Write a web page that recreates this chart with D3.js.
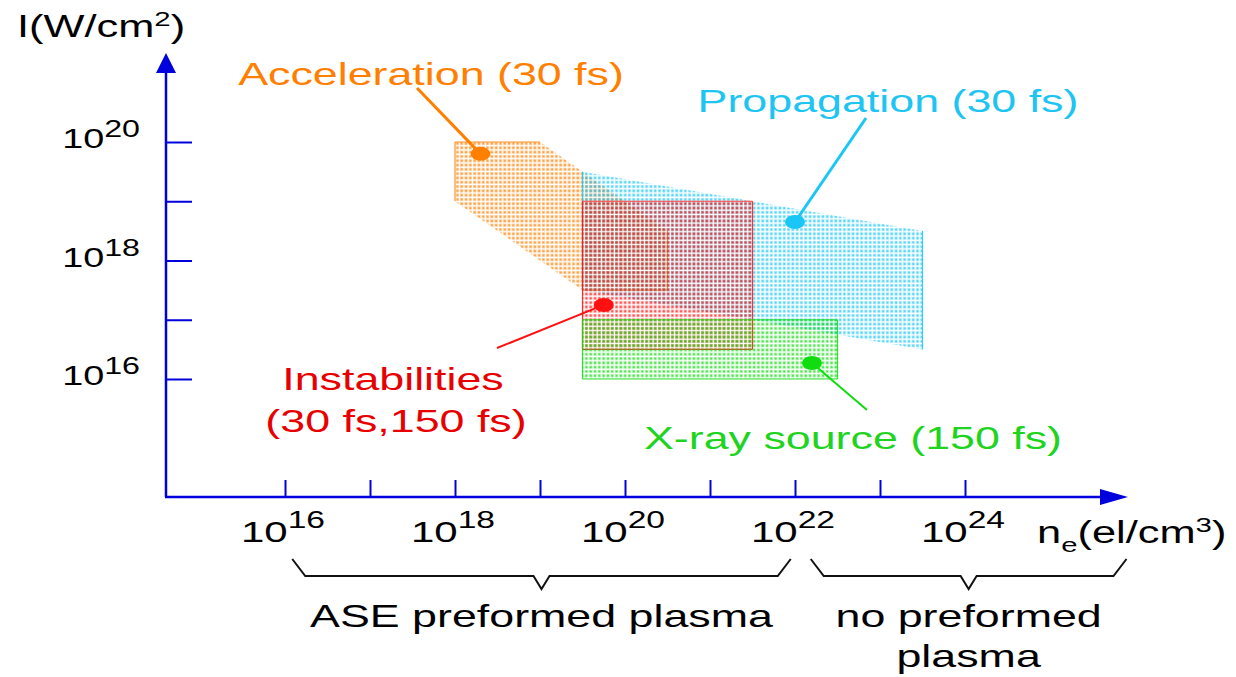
<!DOCTYPE html>
<html>
<head>
<meta charset="utf-8">
<script src="https://cdn.jsdelivr.net/npm/d3@7"></script>
<style>
  html, body { margin: 0; padding: 0; background: #ffffff; }
  svg { display: block; font-family: "Liberation Sans", Arial, Helvetica, sans-serif; }
</style>
</head>
<body>
<svg id="chart" width="1236" height="677"></svg>
<script>
// Parameter regions for laser-plasma interaction regimes (log10 of density and intensity)
const regionNames = ["Acceleration (30 fs)", "Propagation (30 fs)", "Instabilities", "X-ray source (150 fs)"];
const accelerationLogNe = [18, 19, 20.5, 20.5, 19.5, 18];
const accelerationLogI  = [20, 20, 18.5, 17.5, 17.5, 19];
const propagationLogNe  = [19.5, 23.5, 23.5, 19.5];
const propagationLogI   = [19.5, 18.5, 16.5, 17.5];
const instabilityLogNe  = [19.5, 21.5, 21.5, 19.5];
const instabilityLogI   = [19, 19, 16.5, 16.5];
const xraySourceLogNe   = [19.5, 22.5, 22.5, 19.5];
const xraySourceLogI    = [17, 17, 16, 16];

// Marker dot for each region (log10 ne, log10 I)
const markerLogNe = [18.3, 22.0, 19.75, 22.2];
const markerLogI  = [19.8, 18.65, 17.25, 16.27];

// Axis ticks (decades) and the exponents that carry a label
const xTickExponents  = [16, 17, 18, 19, 20, 21, 22, 23, 24];
const xLabelExponents = ["16", "18", "20", "22", "24"];
const yTickExponents  = [16, 17, 18, 19, 20];
const yLabelExponents = ["16", "18", "20"];

// Density ranges grouped by brace (log10 ne)
const braceRanges = [[16.05, 21.95], [22.15, 25.9]];
const braceTexts  = [["ASE preformed plasma"], ["no preformed", "plasma"]];

const SX = 1.4;           // horizontal stretch of the lettering
const AXIS = "#0000dd";
const colors = ["#ff8000", "#19c6f5", "#ff1010", "#10dd10"];
const textColors = ["#ff8000", "#1ec4f2", "#e80000", "#1ed41e"];

const svg = d3.select("#chart");
const x = d3.scaleLog().domain([1e16, 1e24]).range([285, 965]);
const y = d3.scaleLog().domain([1e16, 1e20]).range([379, 142]);
const X = e => x(Math.pow(10, e));
const Y = e => y(Math.pow(10, e));

// dotted-mesh fill patterns
const defs = svg.append("defs");
colors.forEach((c, i) => {
  const p = defs.append("pattern").attr("id", "mesh" + i)
    .attr("patternUnits", "userSpaceOnUse").attr("width", 4.3).attr("height", 4.3);
  p.append("rect").attr("width", 3.3).attr("height", 3.3).attr("fill", c).attr("opacity", 0.3);
  p.append("rect").attr("x", 0.6).attr("y", 0.6).attr("width", 2.1).attr("height", 2.1).attr("fill", c).attr("opacity", 0.6);
});

// regions
const regions = [
  [accelerationLogNe, accelerationLogI],
  [propagationLogNe, propagationLogI],
  [instabilityLogNe, instabilityLogI],
  [xraySourceLogNe, xraySourceLogI]
];
const gReg = svg.append("g");
regions.forEach(([ne, I], i) => {
  const pts = ne.map((v, k) => [X(v), Y(I[k])]);
  gReg.append("path").attr("d", d3.line()(pts) + "Z").attr("fill", `url(#mesh${i})`);
  // outline the straight (vertical / horizontal) edges
  pts.forEach((p, k) => {
    const q = pts[(k + 1) % pts.length];
    if (Math.abs(p[0] - q[0]) < 0.5 || Math.abs(p[1] - q[1]) < 0.5) {
      gReg.append("line").attr("x1", p[0]).attr("y1", p[1]).attr("x2", q[0]).attr("y2", q[1])
        .attr("stroke", colors[i]).attr("stroke-width", 1.2).attr("opacity", 0.85);
    }
  });
});

// axes
const ox = 166, oy = 497;
const gAx = svg.append("g");
gAx.append("line").attr("x1", ox).attr("y1", oy).attr("x2", ox).attr("y2", 70)
  .attr("stroke", AXIS).attr("stroke-width", 2.5);
gAx.append("path").attr("d", `M${ox},53 L${ox - 10},73 L${ox + 10},73 Z`).attr("fill", AXIS);
gAx.append("line").attr("x1", ox - 1).attr("y1", oy).attr("x2", 1104).attr("y2", oy)
  .attr("stroke", AXIS).attr("stroke-width", 2.5);
gAx.append("path").attr("d", `M1128,${oy} L1100,${oy - 8} L1100,${oy + 8} Z`).attr("fill", AXIS);

const xAxis = d3.axisTop(x).tickValues(xTickExponents.map(e => Math.pow(10, e)))
  .tickSize(17).tickFormat("");
const gx = svg.append("g").attr("transform", `translate(0,${oy})`).call(xAxis);
const yAxis = d3.axisRight(y).tickValues(yTickExponents.map(e => Math.pow(10, e)))
  .tickSize(26).tickFormat("");
const gy = svg.append("g").attr("transform", `translate(${ox},0)`).call(yAxis);
[gx, gy].forEach(g => {
  g.select(".domain").remove();
  g.selectAll(".tick line").attr("stroke", AXIS).attr("stroke-width", 2);
});

// text helper: parts = [{t, size, dy}]
function label(x0, y0, anchor, size, fill, parts) {
  const t = svg.append("g").attr("transform", `translate(${x0},${y0}) scale(${SX},1)`)
    .append("text").attr("text-anchor", anchor).attr("font-size", size).attr("fill", fill);
  parts.forEach(p => {
    const s = t.append("tspan").text(p.t);
    if (p.size) s.attr("font-size", p.size);
    if (p.dy) s.attr("dy", p.dy);
  });
}

// tick labels
xLabelExponents.forEach(e => {
  label(X(+e) - 2, 542, "middle", 30, "#000", [{t: "10"}, {t: e, size: 24, dy: -14}]);
});
yLabelExponents.forEach(e => {
  label(140, Y(+e) + 6, "end", 27, "#000", [{t: "10"}, {t: e, size: 23, dy: -11}]);
});

// axis titles
label(17, 37, "start", 31, "#000", [{t: "I(W/cm"}, {t: "2", size: 21, dy: -11}, {t: ")", dy: 11}]);
label(1037, 543, "start", 31, "#000", [{t: "n"}, {t: "e", size: 21, dy: 9}, {t: "(el/cm", dy: -9}, {t: "3", size: 21, dy: -11}, {t: ")", dy: 11}]);

// markers and leader lines
const leaderEnds = [[417, 88], [866, 118], [497, 348], [867, 410]];
const leaderWidths = [3, 3, 2, 2];
markerLogNe.forEach((ne, i) => {
  const cx = X(ne), cy = Y(markerLogI[i]);
  svg.append("line").attr("x1", leaderEnds[i][0]).attr("y1", leaderEnds[i][1])
    .attr("x2", cx).attr("y2", cy).attr("stroke", colors[i]).attr("stroke-width", leaderWidths[i]);
  svg.append("ellipse").attr("cx", cx).attr("cy", cy).attr("rx", 10).attr("ry", 7).attr("fill", colors[i]);
});

// region labels
label(431, 85, "middle", 32, textColors[0], [{t: regionNames[0]}]);
label(888, 112, "middle", 32, textColors[1], [{t: regionNames[1]}]);
label(393, 390, "middle", 32, textColors[2], [{t: regionNames[2]}]);
label(396, 432, "middle", 32, textColors[2], [{t: "(30 fs,150 fs)"}]);
label(853, 449, "middle", 32, textColors[3], [{t: regionNames[3]}]);

// braces under the density axis
const braceTop = 559, braceMid = 576, braceTip = 589;
braceRanges.forEach(([a, b], i) => {
  const x0 = X(a) + 3, x1 = X(b);
  const xm = (x0 + x1) / 2;
  svg.append("path")
    .attr("d", `M${x0},${braceTop} L${x0 + 13},${braceMid} L${xm - 8},${braceMid} L${xm},${braceTip} L${xm + 8},${braceMid} L${x1 - 13},${braceMid} L${x1},${braceTop}`)
    .attr("fill", "none").attr("stroke", "#111").attr("stroke-width", 2).attr("stroke-linejoin", "miter");
  braceTexts[i].forEach((line, k) => {
    label(xm, 627 + k * 40, "middle", 32, "#000", [{t: line}]);
  });
});
</script>
</body>
</html>
